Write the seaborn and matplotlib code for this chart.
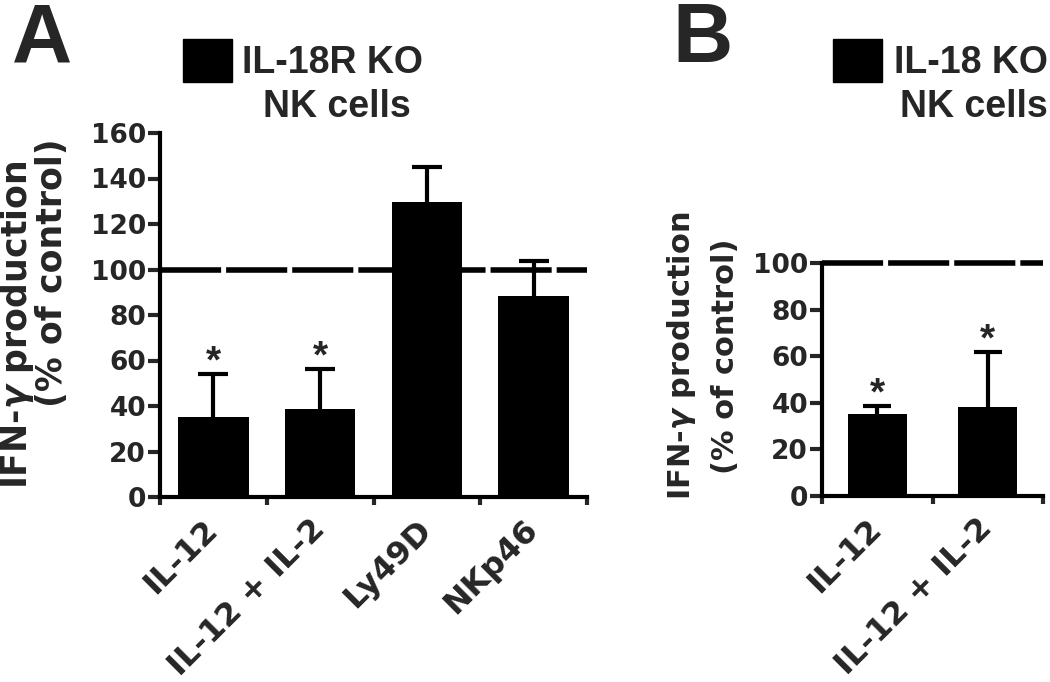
import numpy as np
import matplotlib
matplotlib.use("Agg")
import matplotlib.pyplot as plt
import matplotlib.transforms as mtransforms
from matplotlib.patches import Rectangle
import seaborn as sns


sns.set_theme(style="ticks")
plt.rcParams["font.family"] = ["DejaVu Sans"]
plt.rcParams["font.weight"] = "bold"
plt.rcParams["lines.scale_dashes"] = False

# DADOS
cats_a = ["IL-12", "IL-12 + IL-2", "Ly49D", "NKp46"]
vals_a = [35.3, 38.5, 129.5, 88.5]
err_a = [18.8, 17.8, 15.7, 15.4]
stars_a = [True, True, False, False]
yticks_a = [0, 20, 40, 60, 80, 100, 120, 140, 160]

cats_b = ["IL-12", "IL-12 + IL-2"]
vals_b = [35.2, 38.3]
err_b = [3.6, 23.6]
stars_b = [True, True]
yticks_b = [0, 20, 40, 60, 80, 100]

controle = 100

W, H = 1050, 682
fig = plt.figure(figsize=(W / 100, H / 100), dpi=100)


def px_box(x0, x1, y_top, y_bot):
    return [x0 / W, 1 - y_bot / H, (x1 - x0) / W, (y_bot - y_top) / H]


def painel(ax, cats, vals, errs, stars, yticks, largura, cap, ylab_size):
    n = len(cats)

    sns.barplot(x=cats, y=vals, color="black", saturation=1,
                width=largura, ax=ax, zorder=2, linewidth=0)

    eb = ax.errorbar(range(n), vals, yerr=[[0] * n, errs], fmt="none",
                     ecolor="black", elinewidth=3, capsize=cap, capthick=3,
                     zorder=2)
    # so a barra de cima
    eb[1][0].set_visible(False)

    ax.axhline(controle, color="black", lw=4, ls=(0, (44, 3.6)),
               zorder=1, clip_on=False)

    for i in range(n):
        if stars[i]:
            ax.annotate("*", xy=(i, vals[i] + errs[i]), xytext=(0, 1),
                        textcoords="offset points", ha="center",
                        va="baseline", fontsize=28,
                        family="Liberation Sans", weight="bold")

    ax.set_xlim(-0.5, n - 0.5)
    ax.set_ylim(yticks[0], yticks[-1])
    ax.set_yticks(yticks)
    ax.set_xticks(range(n))
    ax.set_xticks(np.arange(-0.5, n), minor=True)
    ax.set_xticklabels(cats, rotation=45, ha="right", va="center",
                       rotation_mode="anchor", fontsize=23)
    desloc = mtransforms.ScaledTranslation(24 / 100, 0, fig.dpi_scale_trans)
    for lbl in ax.get_xticklabels():
        lbl.set_transform(lbl.get_transform() + desloc)

    ax.tick_params(axis="x", which="major", length=0, pad=20)
    ax.tick_params(axis="x", which="minor", length=6, width=3,
                   direction="out")
    ax.tick_params(axis="y", length=9, width=3, pad=1,
                   labelsize=ylab_size)
    ax.set_xlabel("")
    ax.set_ylabel("")

    sns.despine(ax=ax)
    for s in ["left", "bottom"]:
        ax.spines[s].set_linewidth(3)
        ax.spines[s].set_color("black")
    ax.set_facecolor("none")


# PAINEL A
ax_a = fig.add_axes(px_box(160, 587, 133, 497))
painel(ax_a, cats_a, vals_a, err_a, stars_a, yticks_a, 0.66, 11, 19)

# PAINEL B
ax_b = fig.add_axes(px_box(822, 1043, 263, 496))
painel(ax_b, cats_b, vals_b, err_b, stars_b, yticks_b, 0.53, 10, 19)

# ROTULOS Y
ylab1 = "IFN-$\\gamma$ production"
ylab2 = "(% of control)"
fig.text(17 / W, 1 - 325 / H, ylab1, rotation=90, ha="center",
         va="center", fontsize=25)
fig.text(52 / W, 1 - 273 / H, ylab2, rotation=90, ha="center",
         va="center", fontsize=25)
fig.text(681 / W, 1 - 356 / H, ylab1, rotation=90, ha="center",
         va="center", fontsize=22)
fig.text(725 / W, 1 - 356 / H, ylab2, rotation=90, ha="center",
         va="center", fontsize=22)

# LEGENDAS
fonte_leg = dict(family="Liberation Sans", weight="bold", fontsize=27,
                 ha="center", va="baseline")

fig.add_artist(Rectangle((183 / W, 1 - 82 / H), 49 / W, 43 / H,
                         transform=fig.transFigure, color="black"))
fig.text(333 / W, 1 - 73 / H, "IL-18R KO", **fonte_leg)
fig.text(337 / W, 1 - 117 / H, "NK cells", **fonte_leg)

fig.add_artist(Rectangle((833 / W, 1 - 82 / H), 49 / W, 43 / H,
                         transform=fig.transFigure, color="black"))
fig.text(971 / W, 1 - 73 / H, "IL-18 KO", **fonte_leg)
fig.text(974 / W, 1 - 117 / H, "NK cells", **fonte_leg)

# LETRAS
fig.text(12 / W, 1 - 62 / H, "A", family="Liberation Sans",
         weight="bold", fontsize=60, va="baseline")
fig.text(672 / W, 1 - 62 / H, "B", family="Liberation Sans",
         weight="bold", fontsize=60, va="baseline")

fig.savefig("out.png", dpi=100)
